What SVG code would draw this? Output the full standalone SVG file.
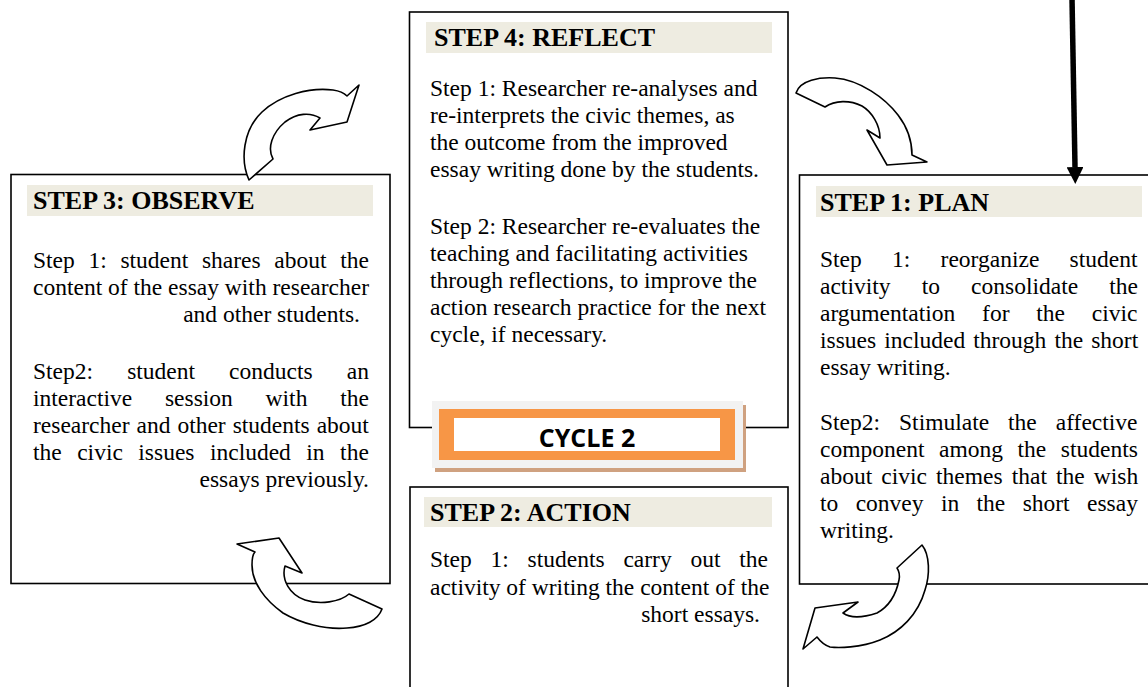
<svg xmlns="http://www.w3.org/2000/svg" width="1148" height="687" viewBox="0 0 1148 687">
<style>
.box{fill:#fff;stroke:#000;stroke-width:1.6}
.hdr{fill:#eeece1}
.ht{font-family:"Liberation Serif","Times New Roman",serif;font-weight:bold;font-size:26px;fill:#000}
.bt{font-family:"Liberation Serif","Times New Roman",serif;font-size:23.5px;fill:#000}
.carrow{fill:#fff;stroke:#000;stroke-width:1.6;stroke-linejoin:round}
.cyc{font-family:"Open Sans","Liberation Sans",sans-serif;font-weight:bold;font-size:25px;fill:#000}
</style>
<defs>
<marker id="ah" markerUnits="userSpaceOnUse" markerWidth="17" markerHeight="17" refX="0" refY="8.5" orient="auto" viewBox="0 0 17 17">
<path d="M0,0 L17,8.5 L0,17 Z" fill="#000"/>
</marker>
</defs>
<rect width="1148" height="687" fill="#fff"/>

<g id="step4">
<rect class="box" x="409.5" y="12" width="378.5" height="415.5"/>
<rect class="hdr" x="426" y="22" width="346" height="31"/>
<text class="ht" x="434" y="46">STEP 4: REFLECT</text>
<text class="bt" x="430" y="96">Step 1: Researcher re-analyses and</text>
<text class="bt" x="430" y="123">re-interprets the civic themes, as</text>
<text class="bt" x="430" y="150">the outcome from the improved</text>
<text class="bt" x="430" y="177">essay writing done by the students.</text>
<text class="bt" x="430" y="234">Step 2: Researcher re-evaluates the</text>
<text class="bt" x="430" y="261">teaching and facilitating activities</text>
<text class="bt" x="430" y="288">through reflections, to improve the</text>
<text class="bt" x="430" y="315">action research practice for the next</text>
<text class="bt" x="430" y="342">cycle, if necessary.</text>
</g>

<g id="step3">
<rect class="box" x="11" y="174.5" width="379" height="409"/>
<rect class="hdr" x="27" y="185" width="346" height="31"/>
<text class="ht" x="33" y="209">STEP 3: OBSERVE</text>
<text class="bt" x="33" y="268" style="word-spacing:7.8px">Step 1: student shares about the</text>
<text class="bt" x="33" y="295">content of the essay with researcher</text>
<text class="bt" x="360" y="322" text-anchor="end">and other students.</text>
<text class="bt" x="33" y="379" style="word-spacing:28.2px">Step2: student conducts an</text>
<text class="bt" x="33" y="406" style="word-spacing:26.9px">interactive session with the</text>
<text class="bt" x="33" y="433" style="word-spacing:1.1px">researcher and other students about</text>
<text class="bt" x="33" y="460" style="word-spacing:9.6px">the civic issues included in the</text>
<text class="bt" x="369" y="487" text-anchor="end">essays previously.</text>
</g>

<g id="step1">
<rect class="box" x="799.5" y="175" width="360" height="409"/>
<rect class="hdr" x="816" y="186" width="326" height="31"/>
<text class="ht" x="820" y="211">STEP 1: PLAN</text>
<text class="bt" x="820" y="267" style="word-spacing:24.4px">Step 1: reorganize student</text>
<text class="bt" x="820" y="294" style="word-spacing:25.3px">activity to consolidate the</text>
<text class="bt" x="820" y="321" style="word-spacing:20.9px">argumentation for the civic</text>
<text class="bt" x="820" y="348" style="word-spacing:2.2px">issues included through the short</text>
<text class="bt" x="820" y="375">essay writing.</text>
<text class="bt" x="820" y="430" style="word-spacing:13.1px">Step2: Stimulate the affective</text>
<text class="bt" x="820" y="457" style="word-spacing:8.7px">component among the students</text>
<text class="bt" x="820" y="484" style="word-spacing:3.2px">about civic themes that the wish</text>
<text class="bt" x="820" y="511" style="word-spacing:11.5px">to convey in the short essay</text>
<text class="bt" x="820" y="538">writing.</text>
</g>

<g id="step2">
<rect class="box" x="410" y="487" width="378" height="220"/>
<rect class="hdr" x="424" y="497" width="348" height="30"/>
<text class="ht" x="430" y="521">STEP 2: ACTION</text>
<text class="bt" x="430" y="567" style="word-spacing:12.9px">Step 1: students carry out the</text>
<text class="bt" x="430" y="595">activity of writing the content of the</text>
<text class="bt" x="760" y="622" text-anchor="end">short essays.</text>
</g>

<g id="cycle2">
<rect x="435" y="405" width="311" height="67" fill="#cfa180"/>
<rect x="432" y="401" width="311" height="67" fill="#f2f2f2"/>
<rect x="439" y="409" width="296" height="51" fill="#f79646"/>
<rect x="454" y="418" width="266" height="33" fill="#fff"/>
<text class="cyc" x="587" y="447" text-anchor="middle">CYCLE 2</text>
</g>

<g id="connectors">
<path class="carrow" d="M249,180 C240,160 243,130 262,112 C280,95 310,87 333,90 C340,91 345,94 347,96 L359,85 L347,122 L310,130 L320,118 C310,112 297,113 285,122 C272,133 267,148 273,159 Z"/>
<path class="carrow" d="M796,93 C800,80 820,77 835,78 C860,80 885,98 898,115 C908,128 912,142 912,155 L927,162 L887,165 L867,130 L880,138 C880,125 872,112 862,106 C850,100 835,100 825,107 Z"/>
<path class="carrow" d="M237,544 L279,538 L302,573 L285,566 C281,580 290,595 305,600 C320,605 340,602 349,594 L382,609 C378,620 365,627 347,628 C325,630 300,623 283,613 C265,600 252,583 252,565 C252,558 253,554 255,552 Z"/>
<path class="carrow" d="M922,545 C930,555 930,575 925,590 C918,615 900,632 880,640 C860,648 838,648 830,647 C824,645 820,641 817,637 L803,649 L815,608 L858,602 L843,613 C850,618 862,618 877,613 C888,607 896,595 899,580 C900,575 899,571 897,568 Z"/>
<line x1="1072" y1="-2" x2="1075" y2="167" stroke="#000" stroke-width="5.5" marker-end="url(#ah)"/>
</g>
</svg>
